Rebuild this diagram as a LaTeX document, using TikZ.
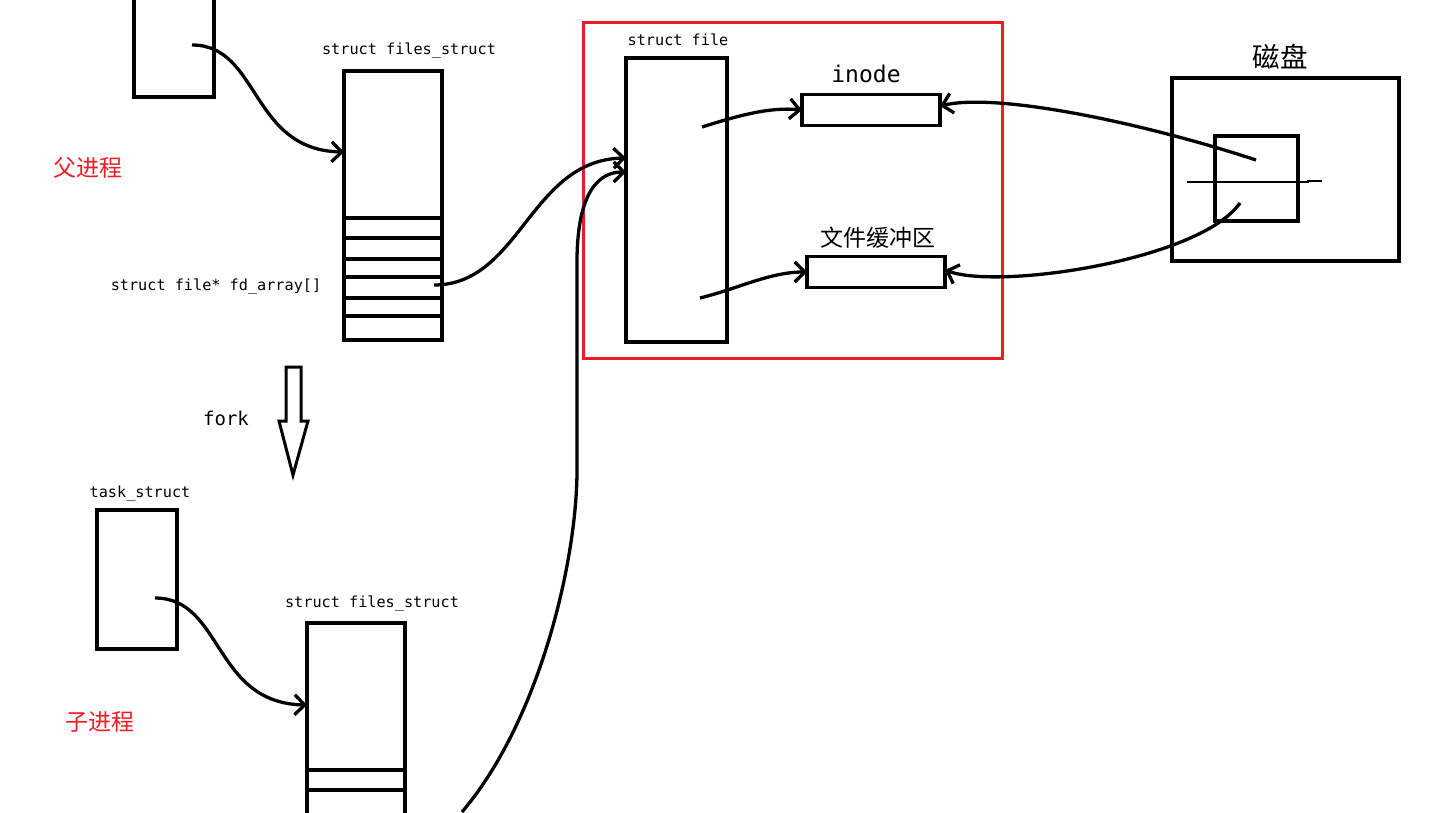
\documentclass[tikz,border=0pt]{standalone}
\usepackage{fontspec}
\setmonofont{DejaVu Sans Mono}
\newfontfamily\cjk{Noto Sans CJK SC}
\usetikzlibrary{arrows.meta, positioning}
\definecolor{markred}{RGB}{237,28,36}
\tikzstyle{box}      = [draw, line width=3.2pt, inner sep=0pt, outer sep=0pt]
\tikzstyle{redbox}   = [draw=markred, line width=3pt, inner sep=0pt, outer sep=0pt]
\tikzstyle{slot}     = [line width=3.2pt]
\tikzstyle{codetext} = [font=\ttfamily\fontsize{15.2}{15.2}\selectfont, inner sep=0pt]
\tikzstyle{cntext}   = [font=\cjk\fontsize{23}{23}\selectfont, inner sep=0pt]
\tikzstyle{arrow}    = [line width=3.3pt, ->, >={Straight Barb[length=10pt,width=20pt]}]

\begin{document}
\begin{tikzpicture}[x=1pt, y=-1pt]
\useasboundingbox (0,0) rectangle (1438,812);

\node[box, minimum width=80pt, minimum height=107pt] (PT) at (174,43.5) {};
\node[box, minimum width=98pt, minimum height=269pt] (FS1) at (393,205.5) {};
\node[box, minimum width=80pt, minimum height=139pt] (CT) at (137,579.5) {};
\node[box, minimum width=98pt, minimum height=207pt] (FS2) at (356,726.5) {};

\node[redbox, minimum width=419pt, minimum height=336pt] (FRAME) at (792.5,190) {};
\node[box, minimum width=101pt, minimum height=284pt] (SF) at (676.5,200) {};
\node[box, minimum width=138pt, minimum height=31pt] (INODE) at (871,110) {};
\node[box, minimum width=138pt, minimum height=31pt] (BUF) at (876,272) {};

\node[box, minimum width=227pt, minimum height=183pt] (DISK) at (1285.5,169.5) {};
\node[box, minimum width=83pt, minimum height=85pt] (BLK) at (1256.5,178.5) {};
\draw[line width=1.2pt] (1187,182) -- (1308,182) -- (1308,181) -- (1322,181);

\foreach \y in {218,238,259,277,298,316}
  \draw[slot] (FS1.west |- 0,\y) -- (FS1.east |- 0,\y);
\foreach \y in {770,790}
  \draw[slot] (FS2.west |- 0,\y) -- (FS2.east |- 0,\y);

\node[codetext] (FS1L) at (409,50) {struct files\_struct};
\node[codetext] (FDL) at (216,286) {struct file* fd\_array[]};
\node[cntext, text=markred] (PARENT) at (88,168) {父进程};
\node[codetext, font=\ttfamily\fontsize{19}{19}\selectfont] (FORKL) at (226,418) {fork};
\node[codetext] (CTL) at (140,494) {task\_struct};
\node[codetext] (FS2L) at (372,603) {struct files\_struct};
\node[cntext, text=markred] (CHILD) at (100,722) {子进程};
\node[codetext] (SFL) at (678,40) {struct file};
\node[codetext, font=\ttfamily\fontsize{23}{23}\selectfont] (INODEL) at (866,74) {inode};
\node[cntext] (BUFL) at (878,238) {文件缓冲区};
\node[cntext, font=\cjk\fontsize{27.5}{27.5}\selectfont] (DISKL) at (1280,57) {磁盘};

\draw[line width=3pt, line join=miter] (286,367) -- (301,367) -- (301,421) -- (308,421)
  -- (293,475) -- (279,421) -- (286,421) -- cycle;

\coordinate (PTP) at (192,45);
\coordinate (CTP) at (155,598);
\coordinate (FDP) at (434,285);
\coordinate (FD2P) at (462,812);
\coordinate (SFP1) at (702,127);
\coordinate (SFP2) at (700,298);
\coordinate (BLKP1) at (1256,160);
\coordinate (BLKP2) at (1240,203);

\draw[arrow] (PTP) .. controls (260,45) and (250,150) .. (FS1.west |- 0,152);
\draw[arrow] (CTP) .. controls (223,598) and (213,703) .. (FS2.west |- 0,705);
\draw[arrow] (FDP) .. controls (520,285) and (530,160) .. (SF.west |- 0,158);
\draw[arrow] (FD2P) .. controls (540,720) and (577,560) .. (577,470) -- (577,262)
  .. controls (577,190) and (600,172) .. (SF.west |- 0,172);
\draw[arrow] (SFP1) .. controls (740,115) and (770,107) .. (INODE.west);
\draw[arrow] (SFP2) .. controls (740,288) and (770,272) .. (BUF.west);
\draw[arrow] (BLKP1) .. controls (1150,125) and (1000,92) .. (INODE.east |- 0,106);
\draw[arrow] (BLKP2) .. controls (1200,260) and (1000,290) .. (BUF.east |- 0,270);

\end{tikzpicture}
\end{document}
